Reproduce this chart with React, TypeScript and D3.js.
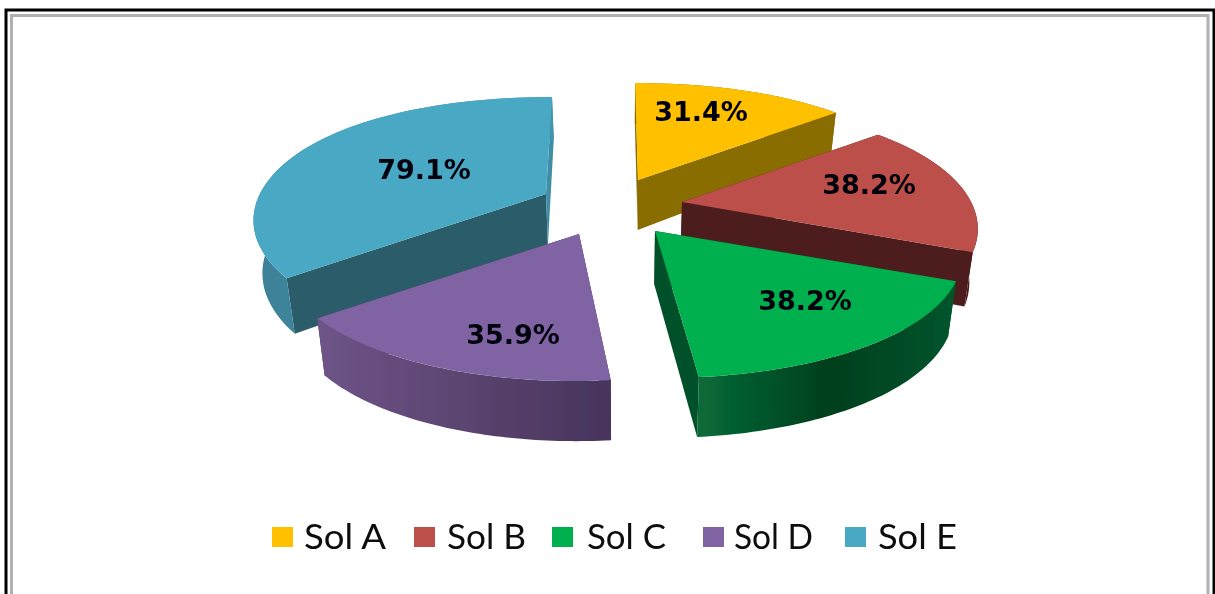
import React from "react";
import * as d3 from "d3";

const categories = ["Sol A", "Sol B", "Sol C", "Sol D", "Sol E"];
const values = [31.4, 38.2, 38.2, 35.9, 79.1];
const valueLabels = ["31.4%", "38.2%", "38.2%", "35.9%", "79.1%"];
const topColors = ["#ffc000", "#bd4f4c", "#00b050", "#8064a2", "#4aa9c4"];
const startFaceColors = ["#8a6d00", "#4d1f1f", "#02512a", "#46345a", "#2a5b6b"];
const endFaceColors = ["#8a6d00", "#4d1f1f", "#02512a", "#46345a", "#3f8ea6"];
const rimStops = [
  ["#8a6d00", "#8a6d00", "#8a6d00"],
  ["#4d1f1f", "#4d1f1f", "#4d1f1f"],
  ["#086b38", "#003f1d", "#04552c"],
  ["#6e5488", "#5c4470", "#46345a"],
  ["#3c7f96", "#4293ab", "#4293ab"],
];

// layout (not data)
const W = 1215, H = 594;
const apexes: [number, number][] = [[638, 180], [682, 202], [655, 231], [579, 234], [546, 194]];
const radialX = [0.985, 0.99, 1.03, 1, 0.98];
const labelPos: [number, number][] = [[701, 111], [869, 184], [805, 300], [513, 334], [424, 169]];
const legendSwatch = [272, 414, 552, 703, 845];
const legendText = [304, 447, 587, 734, 878];
const drawOrder = [0, 1, 4, 3, 2];
const RX = 292, KX = 0.06, RY = 122, KY = 25, CX = 608, PERSP = 0.001;

const slices = d3.pie<number>().sort(null).value((d) => d)(values);
const offY = (a: number) => -Math.cos(a) * (RY - KY * Math.cos(a));
const project = (i: number, a: number): [number, number] => {
  const [ax, ay] = apexes[i];
  const dy = offY(a);
  const x0 = ax + radialX[i] * RX * (1 - KX * Math.cos(a)) * Math.sin(a);
  return [CX + (x0 - CX) * (1 + PERSP * dy), ay + dy];
};
const depthScale = d3.scaleLinear().domain([95, 200, 378]).range([42, 52, 60]);
const lower = ([x, y]: [number, number]): [number, number] => [x - (x - 625) * 0.024, y + depthScale(y)];
const line = d3.line<[number, number]>().x((d) => d[0]).y((d) => d[1]);
const path = (pts: [number, number][]) => line(pts) + "Z";

function Slice({ i }: { i: number }) {
  const s = slices[i];
  const angles = d3.range(0, 61).map((t) => s.startAngle + ((s.endAngle - s.startAngle) * t) / 60);
  const outer = angles.map((a) => project(i, a));
  const apexTop: [number, number] = apexes[i];
  const apexLow = lower(apexTop);
  const first = outer[0];
  const last = outer[outer.length - 1];
  const rim = [...outer, ...outer.map(lower).reverse()];
  const xs = outer.map((p) => p[0]);
  return (
    <g>
      <linearGradient id={`rim${i}`} gradientUnits="userSpaceOnUse" x1={d3.min(xs)} x2={d3.max(xs)} y1={0} y2={0}>
        {rimStops[i].map((c, k) => (
          <stop key={k} offset={k / 2} stopColor={c} />
        ))}
      </linearGradient>
      <path d={path([apexTop, first, lower(first), apexLow])} fill={startFaceColors[i]} />
      <path d={path([apexTop, last, lower(last), apexLow])} fill={endFaceColors[i]} />
      <path d={path(rim)} fill={`url(#rim${i})`} />
      <path d={path([apexTop, ...outer])} fill={topColors[i]} />
    </g>
  );
}

export default function App() {
  return (
    <svg width={W} height={H} style={{ position: "absolute", left: 0, top: 0, background: "#fff" }}>
      <defs>
        <filter id="soft" x="-5%" y="-5%" width="110%" height="110%">
          <feGaussianBlur stdDeviation="0.5" />
        </filter>
      </defs>
      <path d={`M6 ${H}V10H1214V${H}`} fill="none" stroke="#000" strokeWidth={3} />
      <path d={`M11.5 ${H}V15.5H1208V${H}`} fill="none" stroke="#b0b0b0" strokeWidth={3} />
      <g filter="url(#soft)">
        {drawOrder.map((i) => (
          <Slice key={i} i={i} />
        ))}
        {valueLabels.map((t, i) => (
          <text
            key={t + i}
            x={labelPos[i][0]}
            y={labelPos[i][1] + 10}
            textAnchor="middle"
            fontFamily="'DejaVu Sans'"
            fontWeight={700}
            fontSize={27}
            fill="#06060f"
          >
            {t}
          </text>
        ))}
        {categories.map((c, i) => (
          <g key={c}>
            <rect x={legendSwatch[i]} y={527} width={21} height={20} fill={topColors[i]} />
            <text
              x={legendText[i]}
              y={549}
              fontFamily="Lato"
              fontSize={35}
              fill="#111"
              textLength={i === 0 ? 82 : 79}
              lengthAdjust="spacingAndGlyphs"
            >
              {c}
            </text>
          </g>
        ))}
      </g>
    </svg>
  );
}
